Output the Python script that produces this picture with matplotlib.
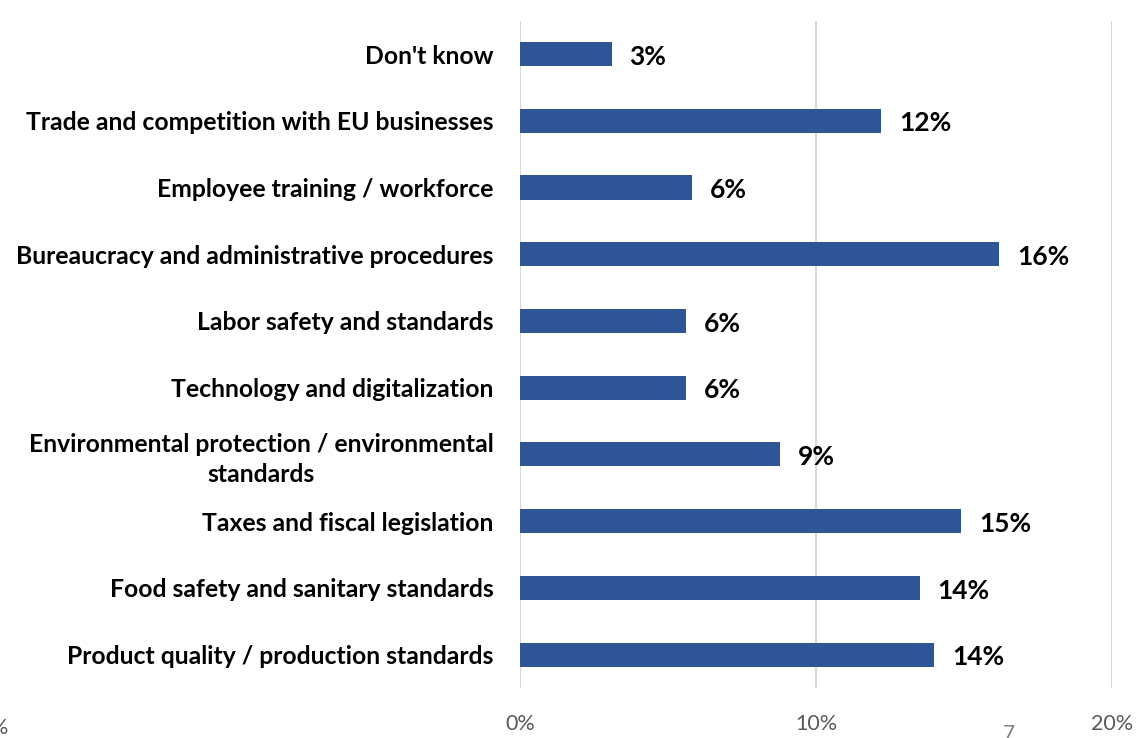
import numpy as np
import matplotlib.pyplot as plt
from matplotlib.ticker import FuncFormatter

# categories, top to bottom
categories = [
    "Don't know",
    "Trade and competition with EU businesses",
    "Employee training / workforce",
    "Bureaucracy and administrative procedures",
    "Labor safety and standards",
    "Technology and digitalization",
    "Environmental protection / environmental\nstandards",
    "Taxes and fiscal legislation",
    "Food safety and sanitary standards",
    "Product quality / production standards",
]
values = [3.1, 12.2, 5.8, 16.2, 5.6, 5.6, 8.8, 14.9, 13.5, 14.0]
value_labels = ["3%", "12%", "6%", "16%", "6%", "6%", "9%", "15%", "14%", "14%"]
x_ticks = [0, 10, 20]

plt.rcParams['font.family'] = ['Lato', 'DejaVu Sans']

fig = plt.figure(figsize=(11.37, 7.38), dpi=100)
ax = fig.add_axes([0.4573, 0.0678, 0.5207, 0.9042])

y = np.arange(len(categories))
ax.barh(y, values, height=0.36, color="#2F5597", zorder=3)

# data labels
for yi, v, lab in zip(y, values, value_labels):
    ax.text(v + 0.6, yi + 0.04, lab, va="center", ha="left", fontsize=19,
            fontweight="bold", color="black", zorder=4)

ax.set_ylim(len(categories) - 0.5, -0.5)
ax.set_xlim(0, 20)
ax.set_yticks(y)
ax.set_yticklabels(categories, fontsize=17.8, fontweight="bold")
for lbl in ax.get_yticklabels():
    lbl.set_multialignment("center")
    lbl.set_linespacing(1.35)
ax.set_xticks(x_ticks)
ax.xaxis.set_major_formatter(FuncFormatter(lambda v, p: "%d%%" % v))
ax.tick_params(axis="y", length=0, pad=19)
ax.tick_params(axis="x", length=0, pad=19, labelsize=15.5, labelcolor="#595959")

ax.grid(axis="x", color="#d9d9d9", linewidth=1.5, zorder=0)
for s in ax.spines.values():
    s.set_visible(False)

# stray page texts at the bottom of the original
fig.text(-0.008, 0.0, "%", fontsize=15.5, color="#595959", ha="left", va="bottom")
fig.text(0.887, -0.008, "7", fontsize=15, color="#7f7f7f", ha="center", va="bottom")

fig.savefig("out.png", dpi=100)
